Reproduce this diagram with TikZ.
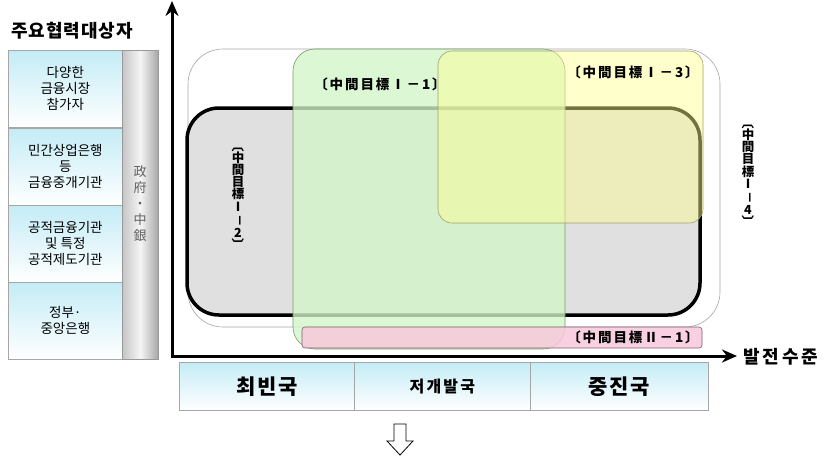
\documentclass[tikz,border=0pt]{standalone}
\usepackage{fontspec}
\usepackage{graphicx}
\setmainfont{Noto Sans CJK KR}
\usetikzlibrary{arrows.meta}
\definecolor{cyanlt}{HTML}{C4ECF6}
\definecolor{grayfill}{HTML}{E0E0E0}
\definecolor{greenfill}{HTML}{D2F5C8}
\definecolor{greenline}{HTML}{7A9A70}
\definecolor{yellowfill}{HTML}{FFFF90}
\definecolor{yellowline}{HTML}{A0A070}
\definecolor{pinkfill}{HTML}{F8C8DC}
\definecolor{pinkline}{HTML}{806070}
\newcommand{\rb}[1]{\rotatebox[origin=c]{-90}{#1}}
\begin{document}
\begin{tikzpicture}[x=1pt,y=-1pt,
  lbox/.style={draw=gray!70, line width=0.7pt, top color=cyanlt, bottom color=white,
    minimum width=114pt, anchor=north west, inner sep=0pt, align=center,
    font=\fontsize{13.5}{16}\selectfont},
  cell/.style={draw=gray!70, line width=0.7pt, top color=cyanlt, bottom color=white,
    minimum height=48pt, anchor=north west, inner sep=0pt},
  bigcell/.style={font=\fontsize{21}{22}\bfseries\selectfont\addfontfeature{LetterSpace=8}},
  hlab/.style={font=\fontsize{13.5}{15}\bfseries\selectfont\addfontfeature{LetterSpace=14}},
  vlab/.style={align=center, font=\fontsize{12.5}{12.2}\bfseries\selectfont, inner sep=0pt},
  axis/.style={line width=3pt, {Stealth[length=15pt,width=13pt]}-{Stealth[length=15pt,width=13pt]}}
]
\useasboundingbox (0,0) rectangle (828,459);

% title
\node[font=\fontsize{18}{20}\bfseries\selectfont\addfontfeature{LetterSpace=5}] (title) at (72,31) {주요협력대상자};

% left boxes
\node[lbox, minimum height=77pt] (b1) at (8,50) {다양한\\금융시장\\참가자};
\node[lbox, minimum height=77pt] (b2) at (8,128) {민간상업은행\\등\\금융중개기관};
\node[lbox, minimum height=77pt] (b3) at (8,205) {공적금융기관\\및 특정\\공적제도기관};
\node[lbox, minimum height=77pt] (b4) at (8,282) {정부·\\중앙은행};

% gray column
\node[draw=gray!80, line width=0.7pt, anchor=north west, minimum width=36pt, minimum height=309pt,
  inner sep=0pt, left color=gray!45, right color=gray!70, middle color=gray!8] (col) at (122,50) {};
\node[align=center, text=gray!75!black, font=\fontsize{13}{16}\selectfont] (govt) at (140,204) {政\\府\\・\\中\\銀};

% outer thin rounded rectangle
\draw[gray!70, line width=0.6pt, fill=white, rounded corners=35pt] (188,49) rectangle (720,327);
% thick rounded rectangle
\draw[black, line width=3.5pt, fill=grayfill, rounded corners=32pt] (187,108) rectangle (700,315);
% green
\draw[greenline, line width=0.6pt, fill=greenfill, fill opacity=0.78, rounded corners=22pt] (293,49) rectangle (565,349);
% yellow
\draw[yellowline, line width=0.6pt, fill=yellowfill, fill opacity=0.45, rounded corners=14pt] (438,51) rectangle (703,223);
% pink
\draw[pinkline, line width=0.6pt, fill=pinkfill, fill opacity=0.85, rounded corners=3pt] (302,327) rectangle (702,348);

% labels
\node[hlab] (g11) at (380,84) {〔中間目標Ⅰ－1〕};
\node[hlab] (g13) at (633,72) {〔中間目標Ⅰ－3〕};
\node[hlab] (g21) at (633,337) {〔中間目標Ⅱ－1〕};
\node[vlab] (g12) at (238,195) {\rb{〔}\\中\\間\\目\\標\\Ⅰ\\\rb{－}\\2\\\rb{〕}};
\node[vlab] (g14) at (748,172) {\rb{〔}\\中\\間\\目\\標\\Ⅰ\\\rb{－}\\4\\\rb{〕}};

% axes
\coordinate (ytip) at (172,1);
\coordinate (orig) at (172,356);
\coordinate (xtip) at (737,356);
\draw[axis] (ytip) -- (orig) -- (xtip);
\node[font=\fontsize{18}{20}\bfseries\selectfont\addfontfeature{LetterSpace=15}, anchor=west] (xlabel) at (740,357) {발전수준};

% bottom cells
\node[cell, minimum width=175pt, bigcell] (c1) at (179,362) {최빈국};
\node[cell, minimum width=176pt, font=\fontsize{16}{18}\bfseries\selectfont\addfontfeature{LetterSpace=14}] (c2) at (354,362) {저개발국};
\node[cell, minimum width=178pt, bigcell] (c3) at (530,362) {중진국};

% hollow down arrow
\draw[black, line width=0.8pt, fill=white] (394,424) -- (406,424) -- (406,441) -- (413,441) -- (400,455) -- (387,441) -- (394,441) -- cycle;
\end{tikzpicture}
\end{document}
